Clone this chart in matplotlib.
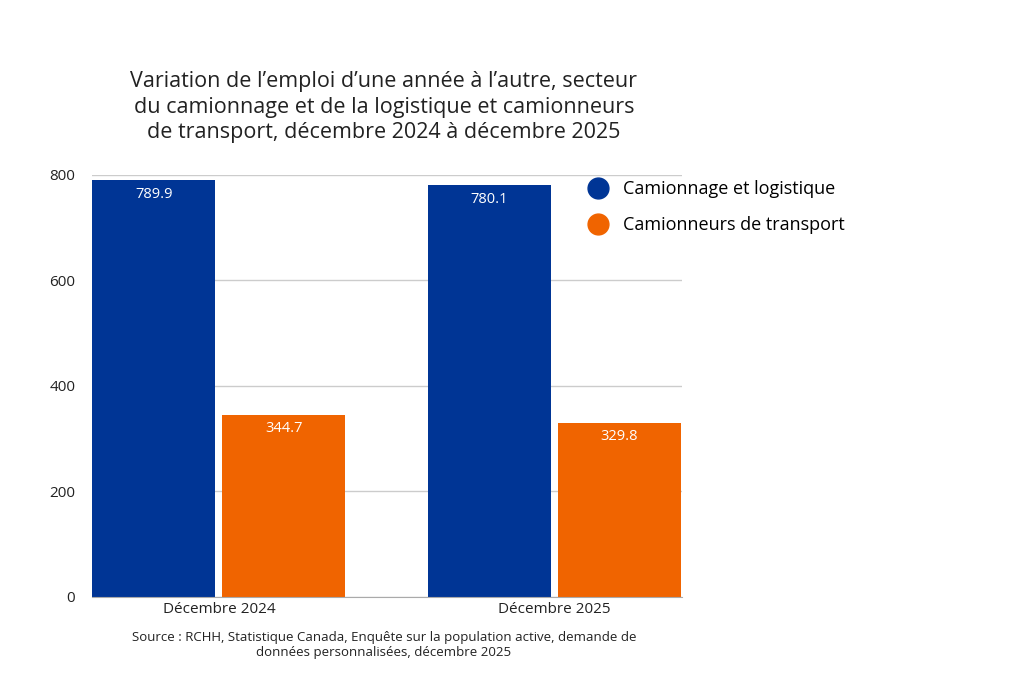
import numpy as np
import matplotlib.pyplot as plt
from matplotlib.lines import Line2D

plt.rcParams['font.family'] = ['Open Sans', 'DejaVu Sans']

categories = ['Décembre 2024', 'Décembre 2025']
camionnage = [789.9, 780.1]
camionneurs = [344.7, 329.8]
series_names = ['Camionnage et logistique', 'Camionneurs de transport']
colors = ['#003595', '#F06400']

fig = plt.figure(figsize=(10.24, 6.83), dpi=100)
ax = fig.add_axes([0.0898, 0.126, 0.576, 0.618])

x = np.arange(len(categories))
w = 0.367
off = 0.194
b1 = ax.bar(x - off, camionnage, w, color=colors[0])
b2 = ax.bar(x + off, camionneurs, w, color=colors[1])
for bars in (b1, b2):
    for r in bars:
        ax.text(r.get_x() + r.get_width() / 2, r.get_height() - 12, f'{r.get_height():.1f}',
                ha='center', va='top', color='white', fontsize=10.5)

ax.set_xlim(-0.379, 1.381)
ax.set_ylim(0, 800)
ax.set_yticks([0, 200, 400, 600, 800])
ax.set_xticks(x)
ax.set_xticklabels(categories)
ax.tick_params(length=0, labelsize=11, colors='#222222')
ax.tick_params(axis='y', pad=12)
ax.grid(axis='y', color='#cccccc', linewidth=1)
ax.set_axisbelow(True)
for s in ['top', 'right', 'left']:
    ax.spines[s].set_visible(False)
ax.spines['bottom'].set_color('#aaaaaa')

handles = [Line2D([], [], marker='o', linestyle='', markersize=15, color=c) for c in colors]
fig.legend(handles, series_names, loc='upper left', bbox_to_anchor=(0.55, 0.76),
           frameon=False, fontsize=13, handletextpad=0.4, labelspacing=1.0)

fig.text(0.375, 0.79, "Variation de l’emploi d’une année à l’autre, secteur\n"
         "du camionnage et de la logistique et camionneurs\n"
         "de transport, décembre 2024 à décembre 2025",
         ha='center', va='bottom', fontsize=15.5, color='#222222', linespacing=1.3)
fig.text(0.375, 0.035, "Source : RCHH, Statistique Canada, Enquête sur la population active, demande de\n"
         "données personnalisées, décembre 2025",
         ha='center', va='bottom', fontsize=9.5, color='#222222')

fig.savefig('out.png', dpi=100)
